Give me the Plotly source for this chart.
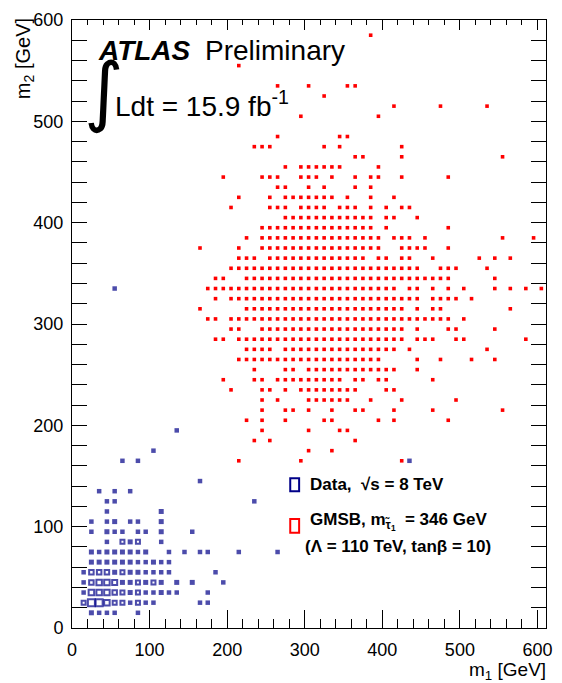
import plotly.graph_objects as go

# ---------------- data (bin centres, 10 GeV bins) ----------------
# Data (blue boxes): m1, m2, bin content
blue_m1 = [105,
           65, 85, 435,
           165,
           35, 55, 75,
           45, 55, 235,
           45, 115,
           25, 45, 55, 75, 85, 115,
           25, 45, 55, 65, 85, 95, 115, 155,
           45, 65, 75, 85, 115,
           25, 35, 45, 55, 65, 75, 85, 95, 125, 145, 165, 175, 215, 265,
           25, 35, 45, 55, 65, 75, 85, 95, 105, 115, 125,
           15, 25, 35, 45, 55, 65, 75, 85, 95, 105, 115, 125, 185,
           15, 25, 35, 45, 55, 65, 75, 85, 95, 105, 115, 135, 155, 195,
           15, 25, 35, 45, 55, 65, 75, 85, 95, 105, 115, 125, 135, 175,
           15, 25, 35, 45, 55, 65, 75, 85, 95, 105, 165, 175,
           25, 35, 45, 55, 85,
           55, 135]
blue_m2 = [175,
           165, 165, 165,
           145,
           135, 135, 135,
           125, 125, 125,
           115, 115,
           105, 105, 105, 105, 105, 105,
           95, 95, 95, 95, 95, 95, 95, 95,
           85, 85, 85, 85, 85,
           75, 75, 75, 75, 75, 75, 75, 75, 75, 75, 75, 75, 75, 75,
           65, 65, 65, 65, 65, 65, 65, 65, 65, 65, 65,
           55, 55, 55, 55, 55, 55, 55, 55, 55, 55, 55, 55, 55,
           45, 45, 45, 45, 45, 45, 45, 45, 45, 45, 45, 45, 45, 45,
           35, 35, 35, 35, 35, 35, 35, 35, 35, 35, 35, 35, 35, 35,
           25, 25, 25, 25, 25, 25, 25, 25, 25, 25, 25, 25,
           15, 15, 15, 15, 15,
           335, 195]
blue_n = [1,
          1, 1, 1,
          1,
          1, 1, 1,
          1, 1, 1,
          1, 2,
          1, 1, 2, 1, 1, 2,
          1, 2, 1, 1, 1, 1, 2, 1,
          1, 4, 2, 4, 1,
          2, 1, 2, 2, 2, 2, 1, 2, 1, 1, 1, 1, 1, 1,
          2, 2, 2, 2, 2, 2, 1, 1, 2, 1, 1,
          1, 5, 5, 5, 2, 4, 2, 2, 1, 1, 1, 1, 1,
          1, 5, 7, 7, 6, 2, 2, 4, 2, 4, 2, 2, 2, 1,
          1, 7, 7, 7, 5, 4, 2, 4, 1, 1, 2, 1, 1, 1,
          4, 10, 10, 7, 4, 4, 1, 4, 1, 1, 1, 1,
          2, 1, 1, 1, 1,
          1, 1]

# GMSB signal (red boxes): one m2 row each, with the m1 bins filled in that row
red_rows_m2 = [585, 555, 535, 525, 515, 505, 485, 475, 465, 455, 445, 435, 425,
               415, 405, 395, 385, 375, 365, 355, 345, 335, 325, 315, 305, 295,
               285, 275, 265, 255, 245, 235, 225, 215, 205, 195, 185, 175, 165]
red_rows_m1 = [
    [385],
    [215],
    [265, 305, 355, 365],
    [325],
    [415, 475, 535],
    [295, 395],
    [265, 345, 355],
    [235, 245, 255, 325, 345, 425],
    [365, 375, 425, 555],
    [275, 295, 305, 315, 325, 335, 345, 395],
    [195, 245, 255, 265, 295, 305, 315, 335, 365, 385, 395, 425, 485],
    [265, 275, 305, 325, 365, 385],
    [215, 255, 275, 285, 295, 305, 315, 325, 335, 355, 385, 415],
    [205, 255, 265, 275, 295, 305, 315, 325, 345, 355, 365, 385, 405, 425, 435],
    [275, 285, 295, 305, 315, 325, 335, 345, 355, 365, 375, 385, 405, 415, 445],
    [245, 255, 265, 275, 285, 295, 305, 315, 325, 335, 345, 355, 365, 375, 385, 405, 485],
    [225, 245, 255, 265, 275, 285, 295, 305, 315, 325, 335, 345, 355, 365, 375, 385,
     395, 415, 425, 435, 455, 555, 595],
    [165, 215, 245, 255, 265, 275, 285, 295, 305, 315, 325, 335, 345, 355, 365, 375,
     385, 395, 425, 435, 445, 455, 485],
    [215, 225, 235, 255, 265, 275, 285, 295, 305, 315, 325, 335, 345, 355, 365, 375,
     395, 405, 425, 435, 465, 525, 545, 565],
    [205, 215, 225, 235, 245, 255, 265, 275, 285, 295, 305, 315, 325, 335, 345, 355,
     365, 375, 385, 395, 405, 415, 425, 435, 445, 475, 485, 495, 535],
    [185, 195, 225, 235, 245, 255, 265, 275, 285, 295, 305, 315, 325, 335, 345, 355,
     365, 375, 385, 395, 405, 415, 425, 435, 445, 455, 465, 475, 485, 545],
    [175, 185, 195, 205, 215, 225, 235, 245, 255, 265, 275, 285, 295, 305, 315, 325,
     335, 345, 355, 365, 375, 385, 395, 405, 415, 435, 445, 465, 485, 505, 545, 565,
     585, 605],
    [185, 205, 215, 225, 235, 245, 255, 265, 275, 285, 295, 305, 315, 325, 335, 345,
     355, 365, 375, 385, 395, 405, 415, 425, 435, 445, 465, 475, 485, 495, 515],
    [165, 225, 235, 245, 255, 265, 275, 285, 295, 305, 315, 325, 335, 345, 355, 365,
     375, 385, 395, 405, 415, 425, 445, 465, 475, 565],
    [175, 185, 205, 215, 225, 235, 245, 255, 265, 275, 285, 295, 305, 315, 325, 335,
     345, 355, 365, 375, 385, 395, 405, 415, 425, 435, 445, 455, 465, 475, 485, 505],
    [205, 215, 245, 255, 265, 275, 285, 295, 305, 315, 325, 335, 345, 355, 365, 375,
     385, 395, 405, 415, 425, 445, 485, 495, 545],
    [185, 195, 215, 225, 235, 245, 255, 265, 275, 285, 295, 305, 315, 325, 335, 345,
     355, 365, 375, 385, 395, 405, 415, 425, 445, 455, 465, 495, 505, 585],
    [225, 235, 245, 255, 275, 285, 295, 305, 315, 325, 335, 345, 355, 365, 375, 385,
     395, 405, 415, 435, 535],
    [215, 225, 235, 245, 255, 265, 275, 285, 295, 305, 315, 325, 335, 345, 355, 365,
     375, 385, 395, 445, 475, 515, 545],
    [235, 275, 285, 305, 315, 325, 335, 345, 355, 365, 375, 385, 395, 405, 415, 445],
    [195, 235, 245, 265, 275, 285, 295, 305, 315, 325, 335, 345, 365, 375, 395, 405, 465],
    [205, 245, 255, 275, 295, 305, 315, 325, 335, 345, 355, 365, 405, 415],
    [245, 265, 305, 315, 325, 335, 345, 355, 385, 425, 495],
    [245, 275, 285, 305, 335, 365, 375, 415, 465, 555],
    [225, 245, 275, 325, 335, 395, 415, 485],
    [245, 305, 345, 355],
    [235, 255, 365],
    [305, 335],
    [215, 295, 425],
]

x_ticks = [0, 100, 200, 300, 400, 500, 600]
y_ticks = [0, 100, 200, 300, 400, 500, 600]

# ---------------- build traces ----------------
red_x, red_y = [], []
for m2, row in zip(red_rows_m2, red_rows_m1):
    for m1 in row:
        red_x.append(m1)
        red_y.append(m2)

BLUE = "#000088"
RED = "#ff0000"
LW = 2.0

# small contents look like solid squares, larger ones as open boxes
bs_x, bs_y, bs_s = [], [], []
bo_x, bo_y, bo_s = [], [], []
for m1, m2, n in zip(blue_m1, blue_m2, blue_n):
    side = 4.0 + 0.5 * n
    if n <= 2:
        bs_x.append(m1); bs_y.append(m2); bs_s.append(side)
    else:
        bo_x.append(m1); bo_y.append(m2); bo_s.append(side - LW)

FONT = "Liberation Sans, Arial, Helvetica, sans-serif"
XR = [0, 611]
YR = [0, 600]

fig = go.Figure()
fig.add_trace(go.Scatter(
    x=red_x, y=red_y, mode="markers", showlegend=False, hoverinfo="skip",
    marker=dict(symbol="square", size=3.6, color=RED, line=dict(width=0)),
))
fig.add_trace(go.Scatter(
    x=bs_x, y=bs_y, mode="markers", showlegend=False, hoverinfo="skip",
    marker=dict(symbol="square", size=bs_s, color=BLUE, line=dict(width=0)),
))
fig.add_trace(go.Scatter(
    x=bo_x, y=bo_y, mode="markers", showlegend=False, hoverinfo="skip",
    marker=dict(symbol="square-open", size=bo_s, color=BLUE,
                line=dict(width=LW, color=BLUE)),
))
# helper trace for the top axis
fig.add_trace(go.Scatter(x=[None], y=[None], xaxis="x2", yaxis="y",
                         showlegend=False, hoverinfo="skip"))

axis_font = dict(family=FONT, size=18, color="black")
fig.update_layout(
    width=562, height=683,
    margin=dict(l=72, r=10, t=15, b=55),
    paper_bgcolor="white", plot_bgcolor="white",
    xaxis=dict(range=XR, tickvals=x_ticks, ticks="inside", ticklen=18,
               tickcolor="black", showline=True, linecolor="black", linewidth=1,
               mirror=True, showgrid=False, zeroline=False, tickfont=axis_font,
               ticklabelstandoff=5,
               minor=dict(dtick=20, tick0=0, ticks="inside", ticklen=9,
                          tickcolor="black", showgrid=False)),
    xaxis2=dict(range=XR, overlaying="x", side="top", tickvals=x_ticks,
                ticks="inside", ticklen=10, tickcolor="black",
                showticklabels=False, showgrid=False, zeroline=False,
                minor=dict(dtick=20, tick0=0, ticks="inside", ticklen=5,
                           tickcolor="black", showgrid=False)),
    yaxis=dict(range=YR, tickvals=y_ticks, ticks="inside", ticklen=15,
               tickcolor="black", showline=True, linecolor="black", linewidth=1,
               mirror="allticks", showgrid=False, zeroline=False, tickfont=axis_font,
               ticklabelstandoff=4,
               minor=dict(dtick=20, tick0=0, ticks="inside", ticklen=8,
                          tickcolor="black", showgrid=False)),
)

L0, R0, T0, B0 = 72, 552, 15, 628


def px(xp):
    return (xp - L0) / (R0 - L0)


def py(yp):
    return (B0 - yp) / (B0 - T0)


def ann(text, x, y, size, xanchor="left", yanchor="middle", angle=0, family=FONT):
    fig.add_annotation(text=text, x=px(x), y=py(y), xref="paper", yref="paper",
                       xanchor=xanchor, yanchor=yanchor, showarrow=False,
                       textangle=angle,
                       font=dict(family=family, size=size, color="black"))


# axis titles
ann("m<sub>1</sub> [GeV]", 554, 671, 19, xanchor="right")
ann("m<sub>2</sub> [GeV]", 24, 11, 20, xanchor="center", yanchor="top", angle=-90)

# ATLAS label
ann("<b><i>ATLAS</i></b>", 96, 46, 28)
ann("Preliminary", 205, 46, 28)
ann("∫", 104, 86, 76, xanchor="center", family="DejaVu Sans, sans-serif")
ann("Ldt = 15.9 fb<sup>-1</sup>", 114, 100, 28)

# legend
fig.add_shape(type="rect", xref="paper", yref="paper",
              x0=px(293), x1=px(302), y0=py(490), y1=py(477),
              line=dict(color=BLUE, width=2), fillcolor="rgba(0,0,0,0)")
fig.add_shape(type="rect", xref="paper", yref="paper",
              x0=px(293), x1=px(302), y0=py(532), y1=py(518),
              line=dict(color=RED, width=2), fillcolor="rgba(0,0,0,0)")
ann("<b>Data,  √s = 8 TeV</b>", 311, 483, 17)
ann("<b>GMSB, m<sub>τ̃<sub>1</sub></sub>  = 346 GeV</b>", 311, 521, 17)
ann("<b>(Λ = 110 TeV, tanβ = 10)</b>", 306, 546, 17)

fig.write_html("out.html")
